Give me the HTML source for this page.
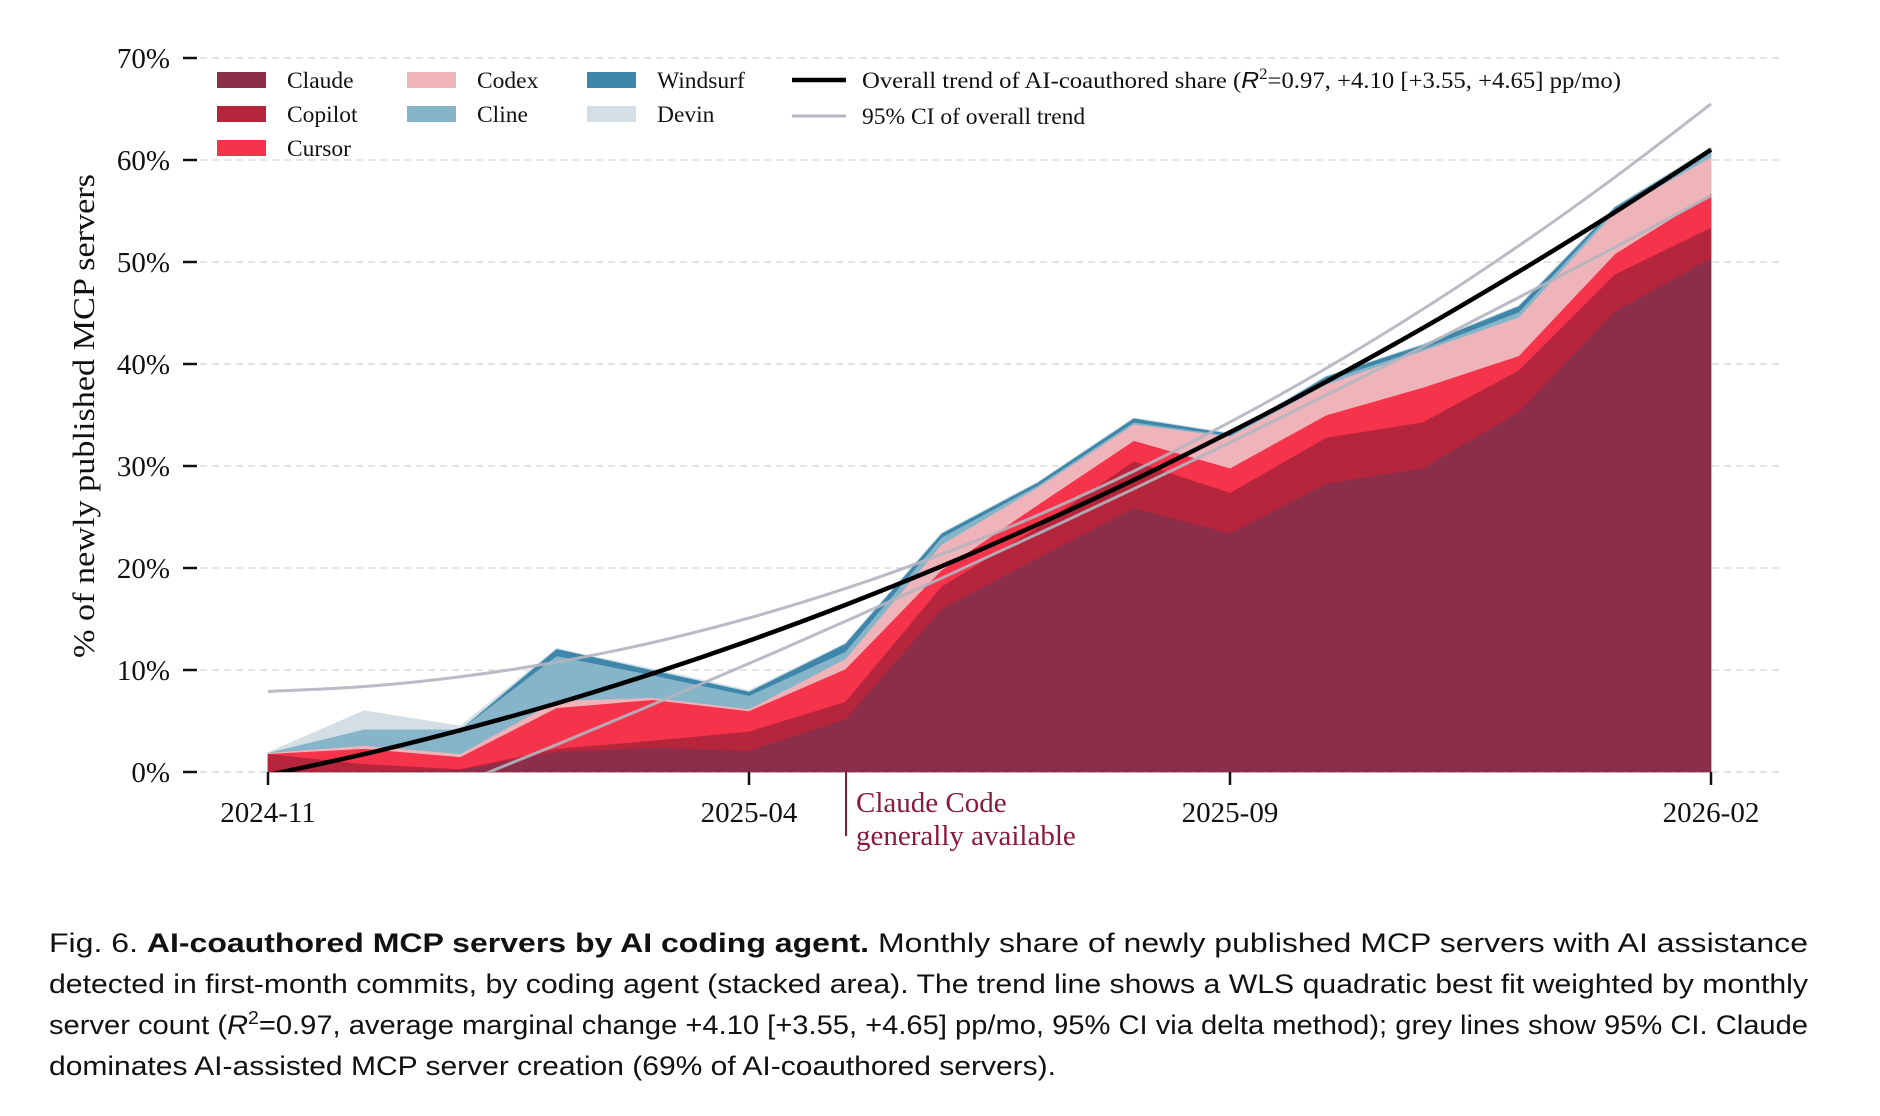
<!DOCTYPE html>
<html><head><meta charset="utf-8"><style>
html,body{margin:0;padding:0;background:#fff;}
svg{display:block;}
.serif{font-family:"Liberation Serif",serif;}
.sans{font-family:"Liberation Sans",sans-serif;}
</style></head><body>
<svg id="chart" width="1880" height="1116" viewBox="0 0 1880 1116" xmlns="http://www.w3.org/2000/svg">
<defs><clipPath id="plotclip"><rect x="200" y="0" width="1600" height="772"/></clipPath></defs>
<g id="grid"></g>
<g id="areas"></g>
<g id="trend" clip-path="url(#plotclip)"></g>
<g id="axes"></g>
<text class="serif" font-size="31" fill="#111" text-anchor="middle" transform="translate(94,416) rotate(-90)" textLength="484" lengthAdjust="spacingAndGlyphs">% of newly published MCP servers</text>
<g>
<line x1="846" y1="772" x2="846" y2="836" stroke="#8B1A3A" stroke-width="2"/>
<text x="856" y="812" class="serif" font-size="29" fill="#8B1A3A">Claude Code</text>
<text x="856" y="845" class="serif" font-size="29" fill="#8B1A3A">generally available</text>
</g>
<g id="legend"></g>
<g class="sans" font-size="27" fill="#111">
<text x="49" y="952" textLength="1759" lengthAdjust="spacingAndGlyphs">Fig. 6.  <tspan font-weight="bold">AI-coauthored MCP servers by AI coding agent.</tspan> Monthly share of newly published MCP servers with AI assistance</text>
<text x="49" y="993" textLength="1759" lengthAdjust="spacingAndGlyphs">detected in first-month commits, by coding agent (stacked area). The trend line shows a WLS quadratic best fit weighted by monthly</text>
<text x="49" y="1034" textLength="1759" lengthAdjust="spacingAndGlyphs">server count (<tspan font-style="italic">R</tspan><tspan dy="-10" font-size="18">2</tspan><tspan dy="10">=0.97, average marginal change +4.10 [+3.55, +4.65] pp/mo, 95% CI via delta method); grey lines show 95% CI. Claude</tspan></text>
<text x="49" y="1075" textLength="1007" lengthAdjust="spacingAndGlyphs">dominates AI-assisted MCP server creation (69% of AI-coauthored servers).</text>
</g>
</svg>
<script>
const months = ["2024-11","2024-12","2025-01","2025-02","2025-03","2025-04","2025-05","2025-06","2025-07","2025-08","2025-09","2025-10","2025-11","2025-12","2026-01","2026-02"];
const tickLabels = ["2024-11","2025-04","2025-09","2026-02"];
const yTicks = [0,10,20,30,40,50,60,70];
const claude   = [0,0.1,0.2,2.0,2.4,2.1,5.2,16.0,21.0,25.9,23.4,28.3,29.8,35.3,45.2,50.4];
const copilot  = [1.8,0.7,0.1,0.3,0.7,1.9,1.7,2.2,3.0,4.6,4.0,4.5,4.5,4.1,3.6,3.0];
const cursor   = [0,1.5,1.2,4.0,4.0,2.0,3.2,1.6,2.2,2.0,2.4,2.2,3.4,1.4,2.0,3.3];
const codex    = [0.1,0.3,0.3,0.7,0.2,0.2,1.0,2.5,1.7,1.6,3.1,3.0,3.6,3.8,4.1,3.6];
const cline    = [0,1.6,2.4,4.4,2.2,1.3,0.7,0.7,0.2,0.2,0.1,0.4,0.2,0.5,0.3,0.5];
const windsurf = [0,0,0,0.7,0.5,0.4,0.8,0.4,0.3,0.4,0.2,0.4,0.4,0.6,0.2,0.4];
const devin    = [0,1.8,0.3,0,0.1,0.1,0,0,0,0,0,0,0,0,0,0];
const trendFit = [-0.3,1.75,4.1,6.73,9.66,12.87,16.37,20.17,24.26,28.63,33.3,38.26,43.5,49.05,54.87,61.0];
const ciUpper  = [7.9,8.38,9.34,10.78,12.7,15.1,17.98,21.34,25.18,29.5,34.3,39.58,45.34,51.58,58.3,65.5];
const ciLower  = [-8.5,-4.88,-1.14,2.68,6.62,10.64,14.76,19.0,23.34,27.76,32.3,36.94,41.66,46.52,51.44,56.5];
const seriesNames = ["Claude","Copilot","Cursor","Codex","Cline","Windsurf","Devin"];

const NS="http://www.w3.org/2000/svg";
const X0=268, X1=1711, Y0=772, PER10=102;
function xScale(i){return X0+(X1-X0)*i/(months.length-1);}
function yScale(v){return Y0-v*PER10/10;}
function mk(tag,attrs,parent){const e=document.createElementNS(NS,tag);for(const k in attrs)e.setAttribute(k,attrs[k]);parent.appendChild(e);return e;}

const grid=document.getElementById('grid'), axes=document.getElementById('axes');
yTicks.forEach(t=>{
  const y=yScale(t);
  const gl=mk('line',{x1:200,x2:1783,y1:y,y2:y,stroke:'#dcdcdc','stroke-width':1.5,'stroke-dasharray':'7,5'},grid);
  
  
  const tk=mk('line',{x1:183,x2:197,y1:y,y2:y,stroke:'#111','stroke-width':2.5},axes);
  
  
  const lb=mk('text',{x:170,y:y+10,'text-anchor':'end','font-size':29,fill:'#111',class:'serif'},axes);
  lb.textContent=t+'%';
  
  
});
tickLabels.forEach(lbl=>{
  const i=months.indexOf(lbl), x=xScale(i);
  const tk=mk('line',{x1:x,x2:x,y1:772,y2:785,stroke:'#111','stroke-width':2.5},axes);
  
  
  const t=mk('text',{x:x,y:822,'text-anchor':'middle','font-size':29,fill:'#111',class:'serif'},axes);
  t.textContent=lbl;
  
  
});

const series=[claude,copilot,cursor,codex,cline,windsurf,devin];
const colors=["#8B2E4A","#B5253B","#F5334A","#EFB3BA","#86B4C9","#3F87AA","#D3DFE5"];
const areas=document.getElementById('areas');
let base=months.map(()=>0);
series.forEach((s,k)=>{
  const top=base.map((b,i)=>b+s[i]);
  let d='';
  top.forEach((v,i)=>{d+=(i?'L':'M')+xScale(i).toFixed(1)+','+yScale(v).toFixed(1);});
  for(let i=months.length-1;i>=0;i--)d+='L'+xScale(i).toFixed(1)+','+yScale(base[i]).toFixed(1);
  d+='Z';
  const p=mk('path',{d:d,fill:colors[k],stroke:colors[k],'stroke-width':0.8,'stroke-linejoin':'round'},areas);
  
  
  base=top;
});

function smooth(vals){
  const pts=vals.map((v,i)=>[xScale(i),yScale(v)]);
  let d='M'+pts[0][0]+','+pts[0][1];
  for(let i=0;i<pts.length-1;i++){
    const p0=pts[Math.max(0,i-1)],p1=pts[i],p2=pts[i+1],p3=pts[Math.min(pts.length-1,i+2)];
    const c1=[p1[0]+(p2[0]-p0[0])/6,p1[1]+(p2[1]-p0[1])/6];
    const c2=[p2[0]-(p3[0]-p1[0])/6,p2[1]-(p3[1]-p1[1])/6];
    d+='C'+c1[0].toFixed(1)+','+c1[1].toFixed(1)+' '+c2[0].toFixed(1)+','+c2[1].toFixed(1)+' '+p2[0].toFixed(1)+','+p2[1].toFixed(1);
  }
  return d;
}
const trend=document.getElementById('trend');
const u=mk('path',{d:smooth(ciUpper),fill:'none',stroke:'#B3B5BF','stroke-width':3,'stroke-opacity':0.9},trend);


const l=mk('path',{d:smooth(ciLower),fill:'none',stroke:'#B3B5BF','stroke-width':3,'stroke-opacity':0.9},trend);


const tl=mk('path',{d:smooth(trendFit),fill:'none',stroke:'#000','stroke-width':4.5},trend);



const legend=document.getElementById('legend');
const legItems=[
 {n:"Claude",c:colors[0],x:217,y:80},{n:"Copilot",c:colors[1],x:217,y:114},{n:"Cursor",c:colors[2],x:217,y:148},
 {n:"Codex",c:colors[3],x:407,y:80},{n:"Cline",c:colors[4],x:407,y:114},
 {n:"Windsurf",c:colors[5],x:587,y:80},{n:"Devin",c:colors[6],x:587,y:114}];
legItems.forEach(it=>{
  const g=mk('g',{},legend);
  
  
  mk('rect',{x:it.x,y:it.y-8,width:49,height:16,fill:it.c},g);
  const t=mk('text',{x:it.x+70,y:it.y+8,'font-size':23.5,fill:'#111',class:'serif'},g);
  t.textContent=it.n;
});
const g1=mk('g',{},legend);


mk('line',{x1:792,x2:846,y1:80,y2:80,stroke:'#000','stroke-width':4.5},g1);
const t1=mk('text',{x:862,y:88,'font-size':23.5,fill:'#111',class:'serif',textLength:759,lengthAdjust:'spacingAndGlyphs'},g1);
t1.innerHTML='Overall trend of AI-coauthored share (<tspan font-family="Liberation Sans" font-style="italic">R</tspan><tspan dy="-9" font-size="16">2</tspan><tspan dy="9">=0.97, +4.10 [+3.55, +4.65] pp/mo)</tspan>';
const g2=mk('g',{},legend);


mk('line',{x1:792,x2:846,y1:116,y2:116,stroke:'#B3B5BF','stroke-width':3},g2);
const t2=mk('text',{x:862,y:124,'font-size':23.5,fill:'#111',class:'serif'},g2);
t2.textContent='95% CI of overall trend';
</script>
</body></html>
